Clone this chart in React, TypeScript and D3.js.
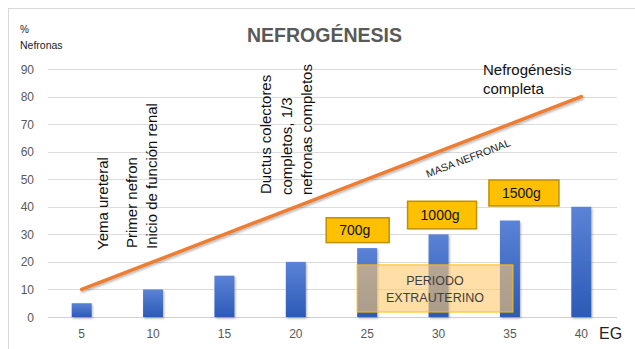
import React from "react";
import * as d3 from "d3";

const categories = ["5", "10", "15", "20", "25", "30", "35", "40"];
const barValues = [5, 10, 15, 20, 25, 30, 35, 40];
const lineValues = [10, 20, 30, 40, 50, 60, 70, 80];
const yTicks = [0, 10, 20, 30, 40, 50, 60, 70, 80, 90];
const weightLabels = [
  { cat: "25", text: "700g", top: 36, bottom: 27, dx0: -41, dx1: 22 },
  { cat: "30", text: "1000g", top: 42, bottom: 32, dx0: -31, dx1: 38 },
  { cat: "35", text: "1500g", top: 49.7, bottom: 40.3, dx0: -21, dx1: 49 },
];

const W = 635;
const H = 349;
const FONT = "'Liberation Sans', Arial, sans-serif";

export default function App() {
  const x = d3
    .scaleBand<string>()
    .domain(categories)
    .range([46, 617])
    .paddingInner(0.72)
    .paddingOuter(0.36);
  const y = d3.scaleLinear().domain([0, 90]).range([317, 69]);
  const cx = (c: string) => (x(c) as number) + x.bandwidth() / 2;

  const line = d3
    .line<number>()
    .x((_, i) => cx(categories[i]))
    .y((d) => y(d));

  return (
    <svg
      width={W}
      height={H}
      style={{ position: "absolute", left: 0, top: 0, background: "#fff" }}
      fontFamily={FONT}
    >
      <defs>
        <linearGradient id="barGrad" x1="0" y1="0" x2="0" y2="1">
          <stop offset="0" stopColor="#5b83d6" />
          <stop offset="1" stopColor="#2c5ab7" />
        </linearGradient>
        <filter id="shadow" x="-10%" y="-10%" width="130%" height="140%">
          <feDropShadow dx="1" dy="1.5" stdDeviation="1" floodColor="#000" floodOpacity="0.3" />
        </filter>
      </defs>
      <rect x={8.5} y={8.5} width={700} height={400} fill="#fff" stroke="#d9d9d9" />

      {/* gridlines */}
      {yTicks.map((t) => (
        <line
          key={t}
          x1={48}
          x2={617}
          y1={Math.round(y(t)) + 0.5}
          y2={Math.round(y(t)) + 0.5}
          stroke={t === 0 ? "#d0d0d0" : "#dcdcdc"}
          strokeWidth={1}
        />
      ))}
      {yTicks.map((t) => (
        <text key={"l" + t} x={34} y={y(t) + 4.5} textAnchor="end" fontSize={12} fill="#595959">
          {t}
        </text>
      ))}
      {categories.map((c) => (
        <text key={"x" + c} x={cx(c)} y={338} textAnchor="middle" fontSize={12} fill="#595959">
          {c}
        </text>
      ))}
      <text x={599} y={339} fontSize={16} fill="#222">EG</text>

      {/* title and axis title */}
      <text x={324.5} y={42} textAnchor="middle" fontSize={19.5} fontWeight="bold" fill="#595959">
        NEFROGÉNESIS
      </text>
      <text x={20} y={33} fontSize={10} fill="#222">%</text>
      <text x={20} y={49} fontSize={10.5} fill="#222">Nefronas</text>

      {/* bars */}
      {barValues.map((v, i) => (
        <rect
          key={"b" + i}
          x={x(categories[i])}
          y={y(v)}
          width={x.bandwidth()}
          height={y(0) - y(v)}
          fill="url(#barGrad)"
          filter="url(#shadow)"
        />
      ))}

      {/* line */}
      <path
        d={line(lineValues) || ""}
        fill="none"
        stroke="#ed7d31"
        strokeWidth={3.5}
        strokeLinecap="round"
        filter="url(#shadow)"
      />
      <text
        transform={`translate(468,158) rotate(-21)`}
        y={4}
        textAnchor="middle"
        fontSize={10.5}
        fill="#222"
      >
        MASA NEFRONAL
      </text>

      {/* rotated annotations */}
      <text transform="translate(108,250) rotate(-90)" fontSize={15} fill="#111">Yema ureteral</text>
      <text transform="translate(137,248) rotate(-90)" fontSize={15} fill="#111">Primer nefron</text>
      <text transform="translate(157,249) rotate(-90)" fontSize={15} fill="#111">Inicio de función renal</text>
      <text transform="translate(271,194) rotate(-90)" fontSize={15} fill="#111">Ductus colectores</text>
      <text transform="translate(292,195) rotate(-90)" fontSize={15} fill="#111">completos, 1/3</text>
      <text transform="translate(312,195) rotate(-90)" fontSize={15} fill="#111">nefronas completos</text>

      <text x={483} y={75} fontSize={15} fill="#111">Nefrogénesis</text>
      <text x={483} y={94} fontSize={15} fill="#111">completa</text>

      {/* weight boxes */}
      {weightLabels.map((w) => (
        <g key={w.text}>
          <rect
            x={cx(w.cat) + w.dx0}
            y={y(w.top)}
            width={w.dx1 - w.dx0}
            height={y(w.bottom) - y(w.top)}
            fill="#ffc000"
            stroke="#bf9000"
            strokeWidth={1.5}
          />
          <text
            x={cx(w.cat) + w.dx0 + 13}
            y={(y(w.top) + y(w.bottom)) / 2 + 5}
            fontSize={14}
            fill="#111"
          >
            {w.text}
          </text>
        </g>
      ))}

      {/* periodo extrauterino */}
      <rect
        x={cx("25") - 10}
        y={y(18.9)}
        width={cx("35") + 3 - (cx("25") - 10)}
        height={y(1.8) - y(18.9)}
        fill="rgb(255,200,110)"
        fillOpacity={0.6}
        stroke="#ffc000"
        strokeWidth={1}
      />
      <text x={435} y={285} textAnchor="middle" fontSize={12.5} fill="#404040">PERIODO</text>
      <text x={435} y={302} textAnchor="middle" fontSize={12.5} fill="#404040">EXTRAUTERINO</text>
    </svg>
  );
}
